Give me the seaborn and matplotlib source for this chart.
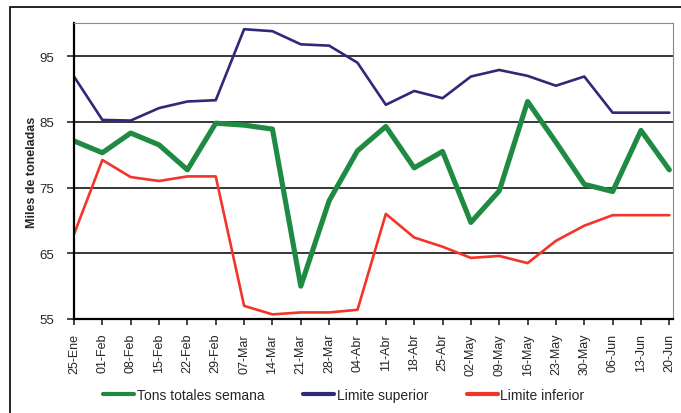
import pandas as pd
import matplotlib.pyplot as plt
import seaborn as sns
from matplotlib.patches import Rectangle

# Data
semanas = ['25-Ene', '01-Feb', '08-Feb', '15-Feb', '22-Feb', '29-Feb', '07-Mar',
           '14-Mar', '21-Mar', '28-Mar', '04-Abr', '11-Abr', '18-Abr', '25-Abr',
           '02-May', '09-May', '16-May', '23-May', '30-May', '06-Jun', '13-Jun', '20-Jun']
tons_totales = [82.1, 80.3, 83.3, 81.5, 77.7, 84.8, 84.5, 83.9, 60.0, 73.0, 80.6,
                84.3, 78.0, 80.5, 69.7, 74.5, 88.1, 81.9, 75.5, 74.4, 83.7, 77.7]
limite_superior = [91.9, 85.3, 85.2, 87.1, 88.1, 88.3, 99.1, 98.8, 96.8, 96.6, 94.0,
                   87.6, 89.7, 88.6, 91.9, 92.9, 92.0, 90.5, 91.9, 86.4, 86.4, 86.4]
limite_inferior = [67.9, 79.2, 76.6, 76.0, 76.7, 76.7, 57.0, 55.7, 56.0, 56.0, 56.4,
                   71.0, 67.4, 66.0, 64.3, 64.6, 63.5, 66.9, 69.2, 70.8, 70.8, 70.8]

df = pd.DataFrame({'idx': range(len(semanas)), 'semana': semanas,
                   'tons': tons_totales, 'sup': limite_superior, 'inf': limite_inferior})

sns.set_style('white')
plt.rcParams['font.family'] = ['Liberation Sans', 'DejaVu Sans']

fig = plt.figure(figsize=(6.81, 4.14), dpi=100)
ax = fig.add_axes([74 / 681, 1 - 320 / 414, (673.3 - 74) / 681, (320 - 24.3) / 414])

# outer chart frame (cut off at right/bottom like the reference)
fig.patches.append(Rectangle((10 / 681, -0.05), 1.0, 1 - 8 / 414 + 0.05,
                             transform=fig.transFigure, fill=False,
                             edgecolor='black', linewidth=1.2, clip_on=False))

sns.lineplot(data=df, x='idx', y='tons', ax=ax, color='#1f8a42', linewidth=3.7,
             label='Tons totales semana')
sns.lineplot(data=df, x='idx', y='sup', ax=ax, color='#2e2a78', linewidth=1.9,
             label='Limite superior')
sns.lineplot(data=df, x='idx', y='inf', ax=ax, color='#f2352b', linewidth=1.9,
             label='Limite inferior')

ax.set_ylim(55, 100)
ax.set_xlim(0, 21.14)
ax.set_yticks([55, 65, 75, 85, 95])
ax.set_xticks(df['idx'])
ax.set_xticklabels(semanas, rotation=90, fontsize=9)
ax.tick_params(axis='y', labelsize=9.5, length=5, width=1.2, direction='out',
               left=True, pad=9)
ax.tick_params(axis='x', length=4, width=1.2, direction='out', bottom=True, pad=6)
for y in [65, 75, 85, 95]:
    ax.axhline(y, color='black', linewidth=1.1, zorder=0.5)

ax.set_xlabel('')
ax.set_ylabel('Miles de toneladas', fontsize=9, fontweight='bold', labelpad=1)

ax.spines['left'].set_color('black')
ax.spines['left'].set_linewidth(1.6)
ax.spines['bottom'].set_color('black')
ax.spines['bottom'].set_linewidth(1.6)
ax.spines['top'].set_color('#8a8a8a')
ax.spines['right'].set_color('#8a8a8a')

handles, labels = ax.get_legend_handles_labels()
ax.get_legend().remove()
leg = fig.legend(handles, labels, loc='center', bbox_to_anchor=(0.505, 1 - 396 / 414),
                 ncol=3, frameon=False, fontsize=10, handlelength=2.2,
                 handletextpad=0.2, columnspacing=2.8)
for line in leg.get_lines():
    line.set_linewidth(3)

fig.savefig('out.png', dpi=100)
